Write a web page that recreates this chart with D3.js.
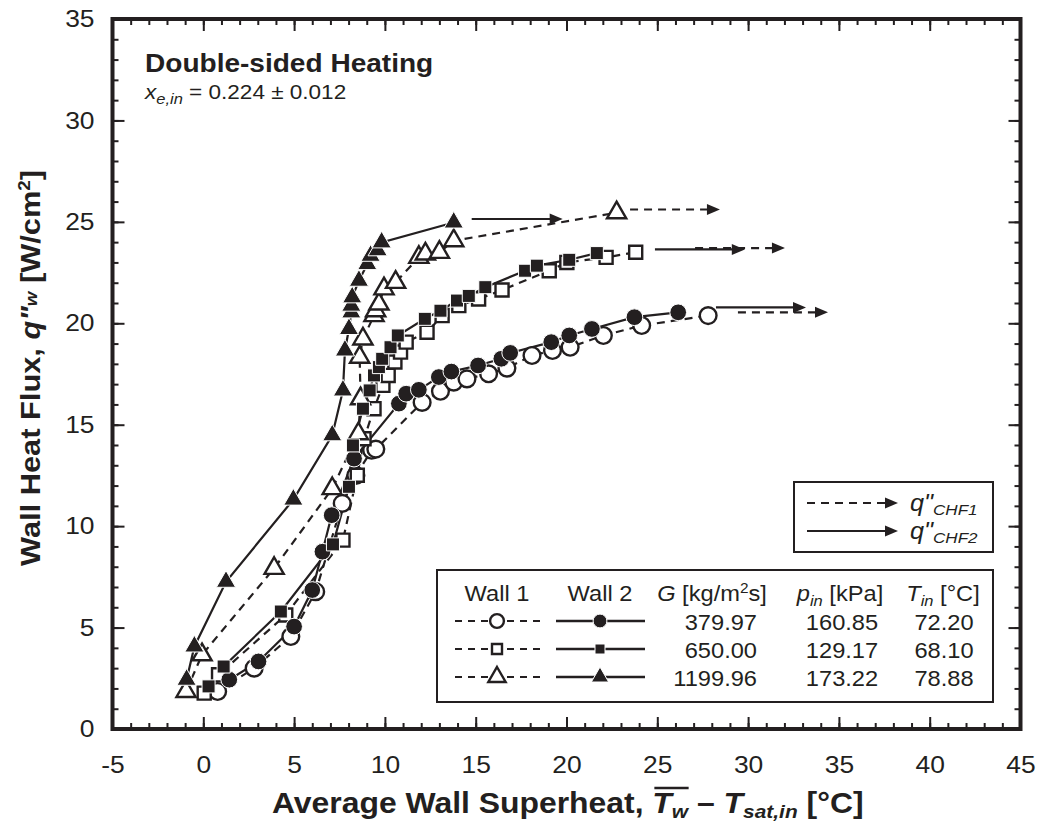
<!DOCTYPE html>
<html>
<head>
<meta charset="utf-8">
<script src="https://cdn.jsdelivr.net/npm/d3@7"></script>
<style>
  body { margin: 0; background: #fff; }
  text { font-family: "Liberation Sans", Arial, Helvetica, sans-serif; fill: #231f20; }
</style>
</head>
<body>
<div id="chart"></div>
<script>
// ---- data ----
// [superheat degC, heat flux W/cm2]
var wall1Circle = [[0.79,1.85],[2.8,3.0],[4.82,4.56],[6.19,6.77],[7.65,11.12],[8.4,12.5],[9.27,13.74],[9.5,13.8],
  [12.05,16.1],[13.06,16.65],[13.79,17.1],[14.52,17.26],[15.71,17.51],[16.72,17.79],[18.1,18.41],[19.23,18.66],
  [20.2,18.82],[22.03,19.4],[24.14,19.89],[27.8,20.38]];
var wall2Circle = [[1.43,2.43],[3.04,3.33],[5.0,5.05],[6.0,6.85],[6.56,8.74],[7.07,10.54],[8.3,13.33],[10.77,16.04],
  [11.17,16.53],[11.87,16.72],[12.97,17.35],[13.66,17.62],[15.13,17.92],[16.41,18.25],[16.9,18.54],[19.16,19.07],
  [20.15,19.4],[21.4,19.72],[23.74,20.3],[26.15,20.54]];
var wall1Square = [[0.05,1.77],[0.84,2.67],[4.54,5.62],[7.69,9.31],[8.48,12.51],[8.85,14.31],[9.4,15.79],[9.89,16.94],
  [10.18,17.43],[10.55,18.09],[10.86,18.58],[11.17,19.07],[12.32,19.56],[13.15,20.38],[14.07,20.87],[15.16,21.2],
  [16.45,21.64],[19.05,22.59],[20.02,23.0],[22.18,23.25],[23.81,23.5]];
var wall2Square = [[0.29,2.1],[1.12,3.08],[4.27,5.79],[7.14,9.1],[8.02,11.94],[8.24,13.98],[8.79,15.79],[9.16,16.69],
  [9.4,17.43],[9.67,17.84],[9.85,18.25],[10.31,18.82],[10.71,19.4],[12.2,20.22],[13.06,20.62],[13.97,21.12],
  [14.62,21.35],[15.53,21.78],[17.72,22.59],[18.37,22.84],[20.15,23.13],[21.67,23.46]];
var wall1Triangle = [[-0.95,1.85],[-0.07,3.66],[3.9,7.92],[7.1,11.85],[8.54,14.56],[8.66,16.28],[8.61,18.33],[8.79,19.23],
  [9.4,20.38],[9.49,20.62],[9.67,20.95],[9.95,21.7],[10.59,22.02],[11.87,23.25],[12.23,23.42],[13.0,23.5],
  [13.79,24.07],[22.76,25.45]];
var wall2Triangle = [[-0.92,2.43],[-0.49,4.07],[1.25,7.26],[4.96,11.31],[7.1,14.48],[7.69,16.69],[7.8,18.66],[8.02,19.72],
  [8.15,20.54],[8.15,20.87],[8.2,21.28],[8.57,22.1],[9.03,22.92],[9.21,23.33],[9.6,23.6],[9.82,23.99],[13.79,24.97]];

// CHF arrows, one per mass flux (circle, square, triangle)
var chf1Start = [29.44, 27.08, 23.5];
var chf1End   = [34.4, 32.03, 28.45];
var chf1Flux  = [20.54, 23.71, 25.61];
var chf2Start = [28.23, 24.87, 14.78];
var chf2End   = [33.19, 29.82, 19.79];
var chf2Flux  = [20.78, 23.64, 25.14];

// legend table
var shapes = ["circle", "square", "triangle"];
var gFlux = ["379.97", "650.00", "1199.96"];
var pIn = ["160.85", "129.17", "173.22"];
var tIn = ["72.20", "68.10", "78.88"];

var xTicks = [-5, 0, 5, 10, 15, 20, 25, 30, 35, 40, 45];
var yTicks = [0, 5, 10, 15, 20, 25, 30, 35];

// ---- setup ----
var ink = "#231f20";
var width = 1041, height = 823;
var stretch = 1.1; // lettering in the figure is a bit wide

var svg = d3.select("#chart").append("svg")
    .attr("width", width)
    .attr("height", height);

var x = d3.scaleLinear().domain([-5, 45]).range([112.5, 1020.5]);
var y = d3.scaleLinear().domain([0, 35]).range([729, 19]);

// widen a text element around its own anchor point
function widen(sel) {
  sel.each(function() {
    var t = d3.select(this);
    var tx = +t.attr("x") || 0, ty = +t.attr("y") || 0;
    var pre = t.attr("transform") || "";
    t.attr("transform", pre + " translate(" + tx + "," + ty + ") scale(" + stretch + ",1) translate(" + (-tx) + "," + (-ty) + ")");
  });
}

function richText(g, px, py, parts, size, anchor, weight) {
  var t = g.append("text")
      .attr("x", px).attr("y", py)
      .attr("font-size", size)
      .attr("font-weight", weight || null)
      .attr("text-anchor", anchor || "start");
  parts.forEach(function(p) {
    t.append("tspan").text(p.t)
      .attr("dy", p.dy || 0)
      .attr("font-size", p.size || null)
      .attr("font-style", p.it ? "italic" : null);
  });
  return t;
}

// plain hyphen for negatives, like the original
function tickFmt(d) { return String(d); }

// ---- axes ----
function styleAxis(g) {
  g.select(".domain").remove();
  g.selectAll(".tick line").attr("stroke", ink).attr("stroke-width", 2);
  g.selectAll(".tick text").attr("font-size", 24).attr("fill", ink).style("font-family", "Liberation Sans, Arial, sans-serif");
}

var xMinor = d3.range(-5, 46, 1), yMinor = d3.range(0, 36, 1);

svg.append("g").attr("transform", "translate(0," + y(0) + ")")
    .call(d3.axisBottom(x).tickValues(xMinor).tickSize(-6).tickFormat(""))
    .call(styleAxis);
svg.append("g").attr("transform", "translate(0," + y(0) + ")")
    .call(d3.axisBottom(x).tickValues(xTicks).tickSize(-12).tickPadding(27).tickFormat(tickFmt))
    .call(styleAxis)
    .selectAll(".tick text").attr("dy", "0.71em").call(widen);
svg.append("g").attr("transform", "translate(0," + y(35) + ")")
    .call(d3.axisTop(x).tickValues(xMinor).tickSize(-6).tickFormat(""))
    .call(styleAxis);
svg.append("g").attr("transform", "translate(0," + y(35) + ")")
    .call(d3.axisTop(x).tickValues(xTicks).tickSize(-12).tickFormat(""))
    .call(styleAxis);

svg.append("g").attr("transform", "translate(" + x(-5) + ",0)")
    .call(d3.axisLeft(y).tickValues(yMinor).tickSize(-6).tickFormat(""))
    .call(styleAxis);
svg.append("g").attr("transform", "translate(" + x(-5) + ",0)")
    .call(d3.axisLeft(y).tickValues(yTicks).tickSize(-12).tickPadding(18).tickFormat(tickFmt))
    .call(styleAxis)
    .selectAll(".tick text").call(widen);
svg.append("g").attr("transform", "translate(" + x(45) + ",0)")
    .call(d3.axisRight(y).tickValues(yMinor).tickSize(-6).tickFormat(""))
    .call(styleAxis);
svg.append("g").attr("transform", "translate(" + x(45) + ",0)")
    .call(d3.axisRight(y).tickValues(yTicks).tickSize(-12).tickFormat(""))
    .call(styleAxis);

// frame
svg.append("rect")
    .attr("x", x(-5)).attr("y", y(35))
    .attr("width", x(45) - x(-5)).attr("height", y(0) - y(35))
    .attr("fill", "none").attr("stroke", ink).attr("stroke-width", 4);

// ---- series ----
var line = d3.line().x(function(d) { return x(d[0]); }).y(function(d) { return y(d[1]); });

var series = [
  {data: wall1Circle, shape: "circle", filled: false},
  {data: wall1Square, shape: "square", filled: false},
  {data: wall1Triangle, shape: "triangle", filled: false},
  {data: wall2Circle, shape: "circle", filled: true},
  {data: wall2Square, shape: "square", filled: true},
  {data: wall2Triangle, shape: "triangle", filled: true}
];

var symbolType = {circle: d3.symbolCircle, square: d3.symbolSquare, triangle: d3.symbolTriangle};
var plotSize = {circle: 220, square: 170, triangle: 160};

function marker(g, shape, filled, size) {
  return g.append("path")
      .attr("d", d3.symbol().type(symbolType[shape]).size(size)())
      .attr("fill", filled ? ink : "#fff")
      .attr("stroke", filled ? "#fff" : ink)
      .attr("stroke-width", filled ? 1 : 2.4);
}

var plot = svg.append("g");

series.forEach(function(s) {
  plot.append("path")
      .datum(s.data)
      .attr("d", line)
      .attr("fill", "none")
      .attr("stroke", ink)
      .attr("stroke-width", 2.2)
      .attr("stroke-dasharray", s.filled ? null : "8,6");
});

series.forEach(function(s) {
  s.data.forEach(function(d) {
    marker(plot, s.shape, s.filled, plotSize[s.shape])
        .attr("transform", "translate(" + x(d[0]) + "," + y(d[1]) + ")");
  });
});

// CHF arrows
function arrow(g, x1, x2, yy, dashed) {
  var head = 13;
  g.append("line")
      .attr("x1", x1).attr("x2", x2 - head + 1)
      .attr("y1", yy).attr("y2", yy)
      .attr("stroke", ink).attr("stroke-width", 2.2)
      .attr("stroke-dasharray", dashed ? "8,6" : null);
  g.append("path")
      .attr("d", "M" + x2 + "," + yy + "L" + (x2 - head) + "," + (yy - 5.5) + "L" + (x2 - head) + "," + (yy + 5.5) + "Z")
      .attr("fill", ink);
}

chf1Start.forEach(function(v, i) { arrow(plot, x(v), x(chf1End[i]), y(chf1Flux[i]), true); });
chf2Start.forEach(function(v, i) { arrow(plot, x(v), x(chf2End[i]), y(chf2Flux[i]), false); });

// ---- annotation ----
svg.append("text").attr("x", 145).attr("y", 72)
    .attr("font-size", 25.5).attr("font-weight", "bold")
    .text("Double-sided Heating").call(widen);
richText(svg, 145, 99, [
  {t: "x", it: true},
  {t: "e,in", it: true, size: 15, dy: 5},
  {t: " = 0.224 ± 0.012", dy: -5}
], 20.5).call(widen);

// ---- axis titles ----
var xTitle = richText(svg, 272, 813, [
  {t: "Average Wall Superheat, "},
  {t: "T", it: true},
  {t: "w", it: true, size: 19, dy: 5},
  {t: " – ", dy: -5},
  {t: "T", it: true},
  {t: "sat,in", it: true, size: 19, dy: 5},
  {t: " [°C]", dy: -5}
], 29, "start", "bold").call(widen);

var yTitle = richText(svg, 0, 0, [
  {t: "Wall Heat Flux, "},
  {t: "q\"", it: true},
  {t: "w", it: true, size: 17, dy: -3},
  {t: " [W/cm", dy: 3},
  {t: "2", size: 17, dy: -10},
  {t: "]", dy: 10}
], 28, "middle", "bold")
    .attr("transform", "translate(40,368) rotate(-90) scale(" + stretch + ",1)");

// overline over T_w
var tsp = xTitle.selectAll("tspan").nodes();
var r1 = tsp[1].getBoundingClientRect(), r2 = tsp[2].getBoundingClientRect();
svg.append("line")
    .attr("x1", r1.left + 2).attr("x2", r2.right - 1)
    .attr("y1", 788).attr("y2", 788)
    .attr("stroke", ink).attr("stroke-width", 2.5);

// ---- legend: CHF arrows ----
var leg1 = svg.append("g");
leg1.append("rect").attr("x", 794).attr("y", 482).attr("width", 199).attr("height", 70)
    .attr("fill", "#fff").attr("stroke", ink).attr("stroke-width", 2);
arrow(leg1, 807, 898, 503, true);
arrow(leg1, 807, 898, 531, false);
richText(leg1, 910, 511, [{t: "q\"", it: true}, {t: "CHF1", it: true, size: 15.5, dy: 4}], 23).call(widen);
richText(leg1, 910, 539, [{t: "q\"", it: true}, {t: "CHF2", it: true, size: 15.5, dy: 4}], 23).call(widen);

// ---- legend: test conditions ----
var leg2 = svg.append("g");
leg2.append("rect").attr("x", 437).attr("y", 570).attr("width", 556).attr("height", 132)
    .attr("fill", "#fff").attr("stroke", ink).attr("stroke-width", 2);

var fs = 21.5;
richText(leg2, 497, 601, [{t: "Wall 1"}], fs, "middle").call(widen);
richText(leg2, 600, 601, [{t: "Wall 2"}], fs, "middle").call(widen);
richText(leg2, 712, 601, [{t: "G", it: true}, {t: " [kg/m"}, {t: "2", size: 14, dy: -8}, {t: "s]", dy: 8}], fs, "middle").call(widen);
richText(leg2, 840, 601, [{t: "p", it: true}, {t: "in", it: true, size: 15, dy: 5}, {t: " [kPa]", dy: -5}], fs, "middle").call(widen);
richText(leg2, 943, 601, [{t: "T", it: true}, {t: "in", it: true, size: 15, dy: 5}, {t: " [°C]", dy: -5}], fs, "middle").call(widen);

var legSize = {circle: 150, square: 100, triangle: 130};
shapes.forEach(function(s, i) {
  var cy = 621 + i * 28;
  leg2.append("line").attr("x1", 455).attr("x2", 541).attr("y1", cy).attr("y2", cy)
      .attr("stroke", ink).attr("stroke-width", 2).attr("stroke-dasharray", "7,6");
  leg2.append("line").attr("x1", 556).attr("x2", 645).attr("y1", cy).attr("y2", cy)
      .attr("stroke", ink).attr("stroke-width", 2.5);
  marker(leg2, s, false, legSize[s]).attr("transform", "translate(497," + cy + ")");
  marker(leg2, s, true, legSize[s]).attr("transform", "translate(600," + cy + ")");
  richText(leg2, 757, cy + 9, [{t: gFlux[i]}], fs, "end").call(widen);
  richText(leg2, 842, cy + 9, [{t: pIn[i]}], fs, "middle").call(widen);
  richText(leg2, 944, cy + 9, [{t: tIn[i]}], fs, "middle").call(widen);
});
</script>
</body>
</html>
